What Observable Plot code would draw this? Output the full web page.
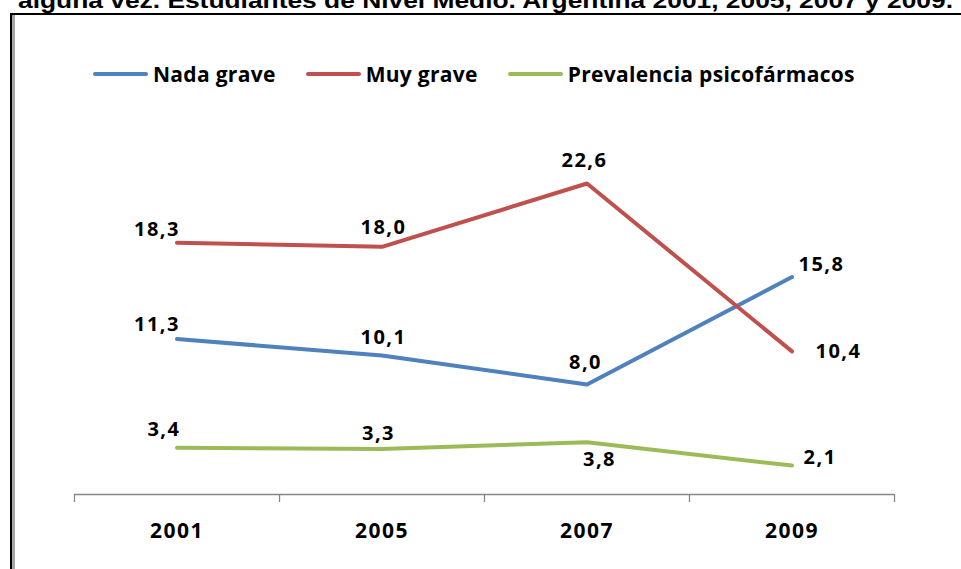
<!DOCTYPE html>
<html>
<head>
<meta charset="utf-8">
<script src="https://cdn.jsdelivr.net/npm/d3@7"></script>
<script src="https://cdn.jsdelivr.net/npm/@observablehq/plot@0.6"></script>
<style>
  html, body { margin: 0; padding: 0; background: #fff; }
  #page { position: relative; width: 961px; height: 569px; overflow: hidden; background: #fff; }
  #title { position: absolute; left: 0; top: 0; }
  #frame { position: absolute; left: 9.5px; top: 12.5px; width: 1000px; height: 600px;
           border-left: 2.5px solid #000; border-top: 2.5px solid #000; box-sizing: border-box; }
  #frame-inner { position: absolute; left: 12px; top: 15px; width: 2.5px; height: 600px; background: #a6a6a6; }
  #legend { position: absolute; top: 60px; left: 93px; display: flex; align-items: center;
            font-family: "Open Sans", sans-serif; font-weight: 700; font-size: 21px; letter-spacing: 0.3px; color: #000; }
  .item { display: flex; align-items: center; margin-right: 30px; white-space: nowrap; }
  .swatch { width: 55px; height: 4px; border-radius: 2px; margin-right: 5px; }
  #chart { position: absolute; left: 0; top: 0; }
</style>
</head>
<body>
<div id="page">
  <div id="frame"></div>
  <div id="frame-inner"></div>
  <div id="title"></div>
  <div id="legend"></div>
  <div id="chart"></div>
</div>
<script>
// Years surveyed and the three series
const years = ["2001", "2005", "2007", "2009"];
const seriesNames = ["Nada grave", "Muy grave", "Prevalencia psicofármacos"];
const seriesColors = ["#4F81BD", "#C0504D", "#9BBB59"];
const nadaGrave = [11.3, 10.1, 8.0, 15.8];
const muyGrave = [18.3, 18.0, 22.6, 10.4];
const prevalencia = [3.4, 3.3, 3.8, 2.1];

// Hand-placed value labels: [text anchor, dx, dy of the baseline]
const labelPlacement = {
  "Nada grave": [["end", 3, -8], ["middle", 1.5, -12], ["middle", -1.5, -15], ["start", 6.5, -6.5]],
  "Muy grave": [["end", 3, -7], ["middle", 1.5, -13], ["middle", -2.5, -17], ["start", 23.5, 7]],
  "Prevalencia psicofármacos": [["end", 3.5, -12], ["middle", -3.5, -9.5], ["middle", 12.5, 23.5], ["start", 11.5, -2]]
};

const seriesValues = [nadaGrave, muyGrave, prevalencia];
const rows = seriesNames.flatMap((serie, s) =>
  seriesValues[s].map((value, i) => ({serie, i, year: years[i], value}))
);

const fmt = v => v.toFixed(1).replace(".", ",");
const axisGray = "#868686";

// Title line (mostly cut off at the top of the page)
const titleText = "alguna vez. Estudiantes de Nivel Medio. Argentina 2001, 2005, 2007 y 2009.";
d3.select("#title").append("svg")
  .attr("width", 961).attr("height", 14)
  .append("text")
  .attr("x", 18).attr("y", 7.5)
  .attr("textLength", 935).attr("lengthAdjust", "spacingAndGlyphs")
  .attr("font-family", "Liberation Sans, Arial, sans-serif")
  .attr("font-weight", 700).attr("font-size", 22)
  .text(titleText);

// Legend
const legend = d3.select("#legend");
seriesNames.forEach((name, s) => {
  const item = legend.append("div").attr("class", "item");
  item.append("div").attr("class", "swatch").style("background", seriesColors[s]);
  item.append("span").text(name);
});

const boundaries = d3.range(years.length + 1).map(i => i - 0.5);

const labelMarks = rows.map(d => {
  const [anchor, dx, dy] = labelPlacement[d.serie][d.i];
  return Plot.text([d], {
    x: "i", y: "value", text: r => fmt(r.value),
    textAnchor: anchor, dx, dy, lineAnchor: "bottom",
    fontSize: 20, fontWeight: 700, fill: "#000"
  });
});

const chart = Plot.plot({
  width: 961,
  height: 569,
  marginLeft: 74,
  marginRight: 67,
  marginTop: 150,
  marginBottom: 75,
  style: "background: transparent; overflow: visible; font-family: 'Open Sans', sans-serif; letter-spacing: 1.5px;",
  x: {type: "linear", domain: [-0.5, years.length - 0.5], axis: null, label: null},
  y: {domain: [0, 25], axis: null, label: null},
  color: {domain: seriesNames, range: seriesColors},
  marks: [
    Plot.ruleY([0], {stroke: axisGray, strokeWidth: 1.3}),
    Plot.axisX({ticks: boundaries, tickSize: 8, tickFormat: () => "", label: null,
      stroke: axisGray, strokeWidth: 1.3}),
    Plot.axisX({ticks: d3.range(years.length), tickSize: 0, tickPadding: 29, label: null,
      tickFormat: i => years[i], fontSize: 21, fontWeight: 700, fill: "#000"}),
    Plot.line(rows, {x: "i", y: "value", z: "serie", stroke: "serie",
      strokeWidth: 4, strokeLinecap: "round", strokeLinejoin: "round"}),
    ...labelMarks
  ]
});

document.getElementById("chart").appendChild(chart);
</script>
</body>
</html>
